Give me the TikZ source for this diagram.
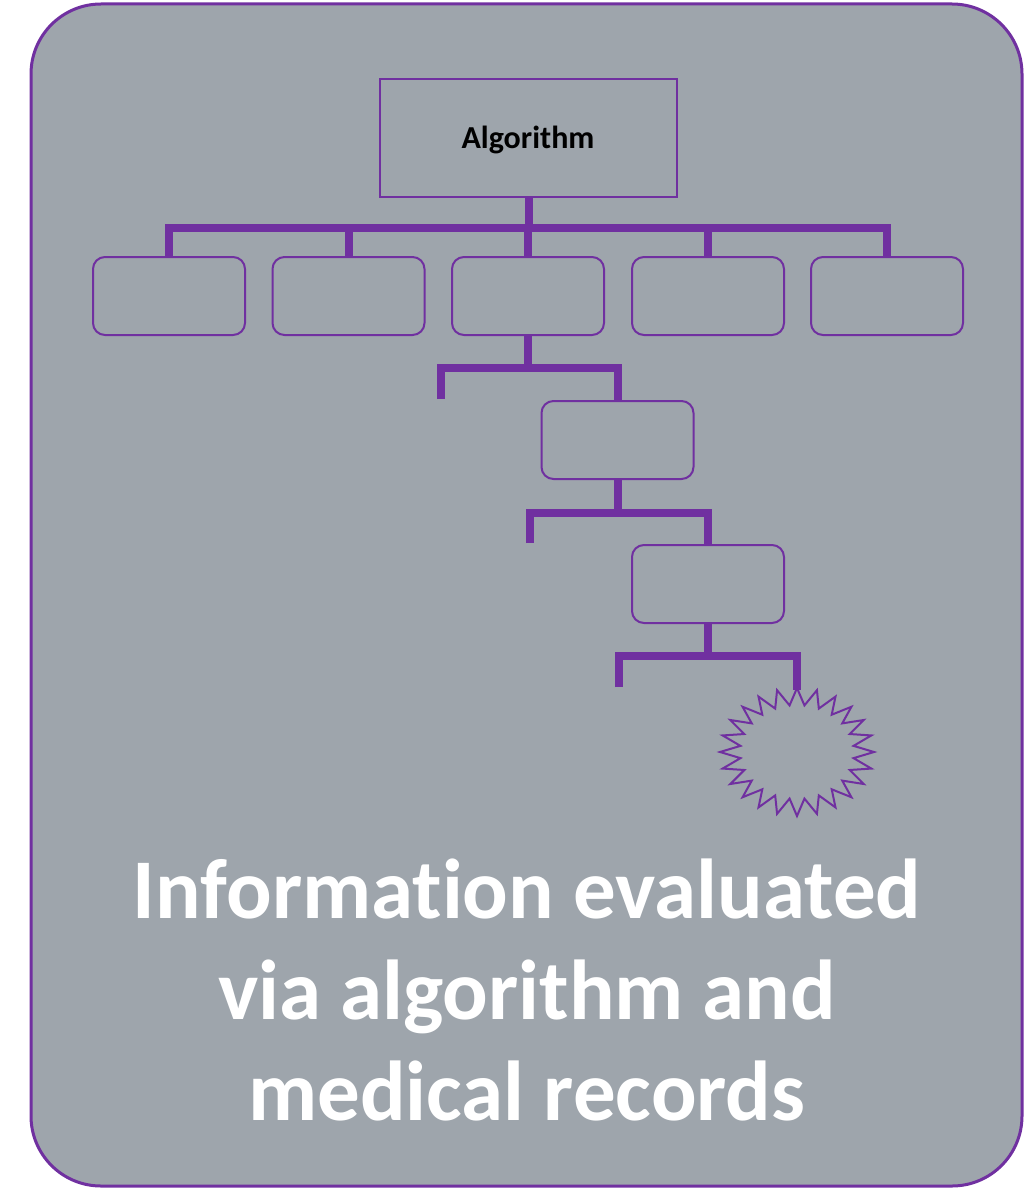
\documentclass[tikz,border=0pt]{standalone}
\usepackage{fontspec}
\setmainfont{Carlito}[Ligatures=NoCommon]
\definecolor{bggray}{HTML}{9EA5AC}
\definecolor{mypurple}{HTML}{7030A0}
\begin{document}
\begin{tikzpicture}[x=1pt,y=-1pt,
  childbox/.style={draw=mypurple, line width=2pt, rounded corners=12pt, minimum width=152pt, minimum height=78pt, inner sep=0pt},
  conn/.style={draw=mypurple, line width=8pt, line join=miter}]
\useasboundingbox (0,0) rectangle (1024,1188);
\draw[fill=bggray, draw=mypurple, line width=3pt, rounded corners=70pt] (31,4) rectangle (1022,1186);
\node[draw=mypurple, line width=2pt, minimum width=297pt, minimum height=118pt, inner sep=0pt] (alg) at (528.5,138) {};
\node[font=\fontsize{32}{36}\selectfont\bfseries, inner sep=0pt] (algt) at (528,140) {Algorithm};
\node[childbox] (c1) at (169,296) {};
\node[childbox] (c2) at (348.5,296) {};
\node[childbox] (c3) at (528,296) {};
\node[childbox] (c4) at (708,296) {};
\node[childbox] (c5) at (887,296) {};
\node[childbox] (d1) at (617.5,440) {};
\node[childbox] (e1) at (708,584) {};
\coordinate (bar0) at (528,228);
\coordinate (bar1) at (528,368);
\coordinate (bar2) at (618,513);
\coordinate (bar3) at (708,656);
\coordinate (f1) at (441,399);
\coordinate (f2) at (530,543);
\coordinate (f3) at (619,687);
\coordinate (sb) at (797,690);
% level 0
\draw[conn] (alg.south) -- (alg.south |- bar0);
\draw[conn] (c1.north) -- (c1.north |- bar0) -- (c5.north |- bar0) -- (c5.north);
\draw[conn] (c2.north) -- (c2.north |- bar0);
\draw[conn] (c3.north) -- (c3.north |- bar0);
\draw[conn] (c4.north) -- (c4.north |- bar0);
% level 1
\draw[conn] (c3.south) -- (c3.south |- bar1);
\draw[conn] (f1) -- (f1 |- bar1) -- (d1.north |- bar1) -- (d1.north);
% level 2
\draw[conn] (d1.south) -- (d1.south |- bar2);
\draw[conn] (f2) -- (f2 |- bar2) -- (e1.north |- bar2) -- (e1.north);
% level 3
\draw[conn] (e1.south) -- (e1.south |- bar3);
\draw[conn] (f3) -- (f3 |- bar3) -- (sb |- bar3) -- (sb);
% starburst
\draw[mypurple, line width=2pt, line join=miter]
  plot[samples=48, domain=0:47, variable=\i]
  ({797 + (mod(\i,2)==0 ? 77 : 57)*cos(90 - \i*7.5)}, {752 - (mod(\i,2)==0 ? 64 : 47)*sin(90 - \i*7.5)}) -- cycle;
\node[text=white, align=center, font=\fontsize{85}{101}\selectfont\bfseries] (cap) at (527,990) {Information evaluated\\via algorithm and\\medical records};
\end{tikzpicture}
\end{document}
